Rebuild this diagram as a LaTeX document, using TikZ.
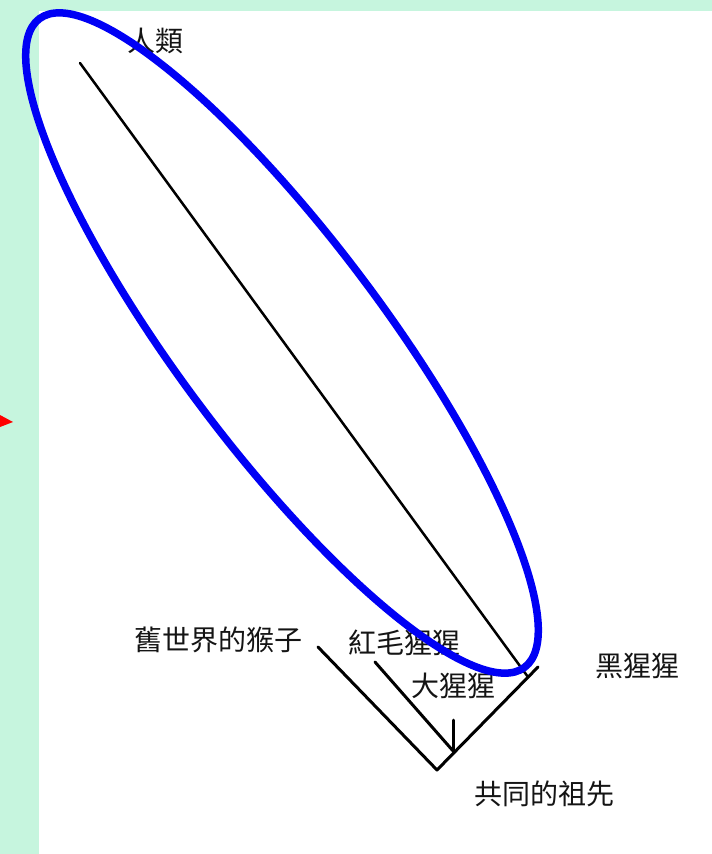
\documentclass[tikz,border=0pt]{standalone}
\usepackage{fontspec}
\newfontfamily\cjk{Noto Sans CJK TC}
\definecolor{mint}{RGB}{198,245,222}
\definecolor{inkc}{RGB}{20,20,20}
\definecolor{ringblue}{RGB}{0,0,245}
\begin{document}
\begin{tikzpicture}[x=1pt,y=-1pt,
  lbl/.style={inner sep=0pt, text=inkc, font=\cjk\fontsize{28}{30}\selectfont},
  branch/.style={draw=black, line width=3pt, line cap=round, line join=round},
  ring/.style={draw=ringblue, line width=7.5pt}]
\useasboundingbox (0,0) rectangle (712,854);
\fill[mint] (0,0) rectangle (712,854);
\fill[white] (39,11) rectangle (712,854);
\fill[red] (0,415) -- (13,422) -- (0,427) -- cycle;
% coordinates
\coordinate (root) at (437,770);
\coordinate (chimptop) at (538,667);
\coordinate (monkeytop) at (318,647);
\coordinate (orangtop) at (375,662);
\coordinate (orangbase) at (454,752);
\coordinate (gortop) at (453,720);
\coordinate (gorbase) at (453,751);
\coordinate (humantop) at (80,63);
\coordinate (humanbase) at (528,677);
% branches
\draw[branch] (monkeytop) -- (root) -- (chimptop);
\draw[branch] (orangtop) -- (orangbase);
\draw[branch] (gortop) -- (gorbase);
\draw[branch, line width=2.5pt] (humantop) -- (humanbase);
% labels
\node[lbl] (human) at (155,41) {人類};
\node[lbl] (monkey) at (218,640) {舊世界的猴子};
\node[lbl] (orang) at (404,643) {紅毛猩猩};
\node[lbl] (gorilla) at (453,686) {大猩猩};
\node[lbl] (chimp) at (637,666) {黑猩猩};
\node[lbl] (ancestor) at (544,794) {共同的祖先};
% ellipse
\draw[ring, rotate around={-53.2:(282,343)}] (282,343) ellipse [x radius=405, y radius=103];
\end{tikzpicture}
\end{document}
